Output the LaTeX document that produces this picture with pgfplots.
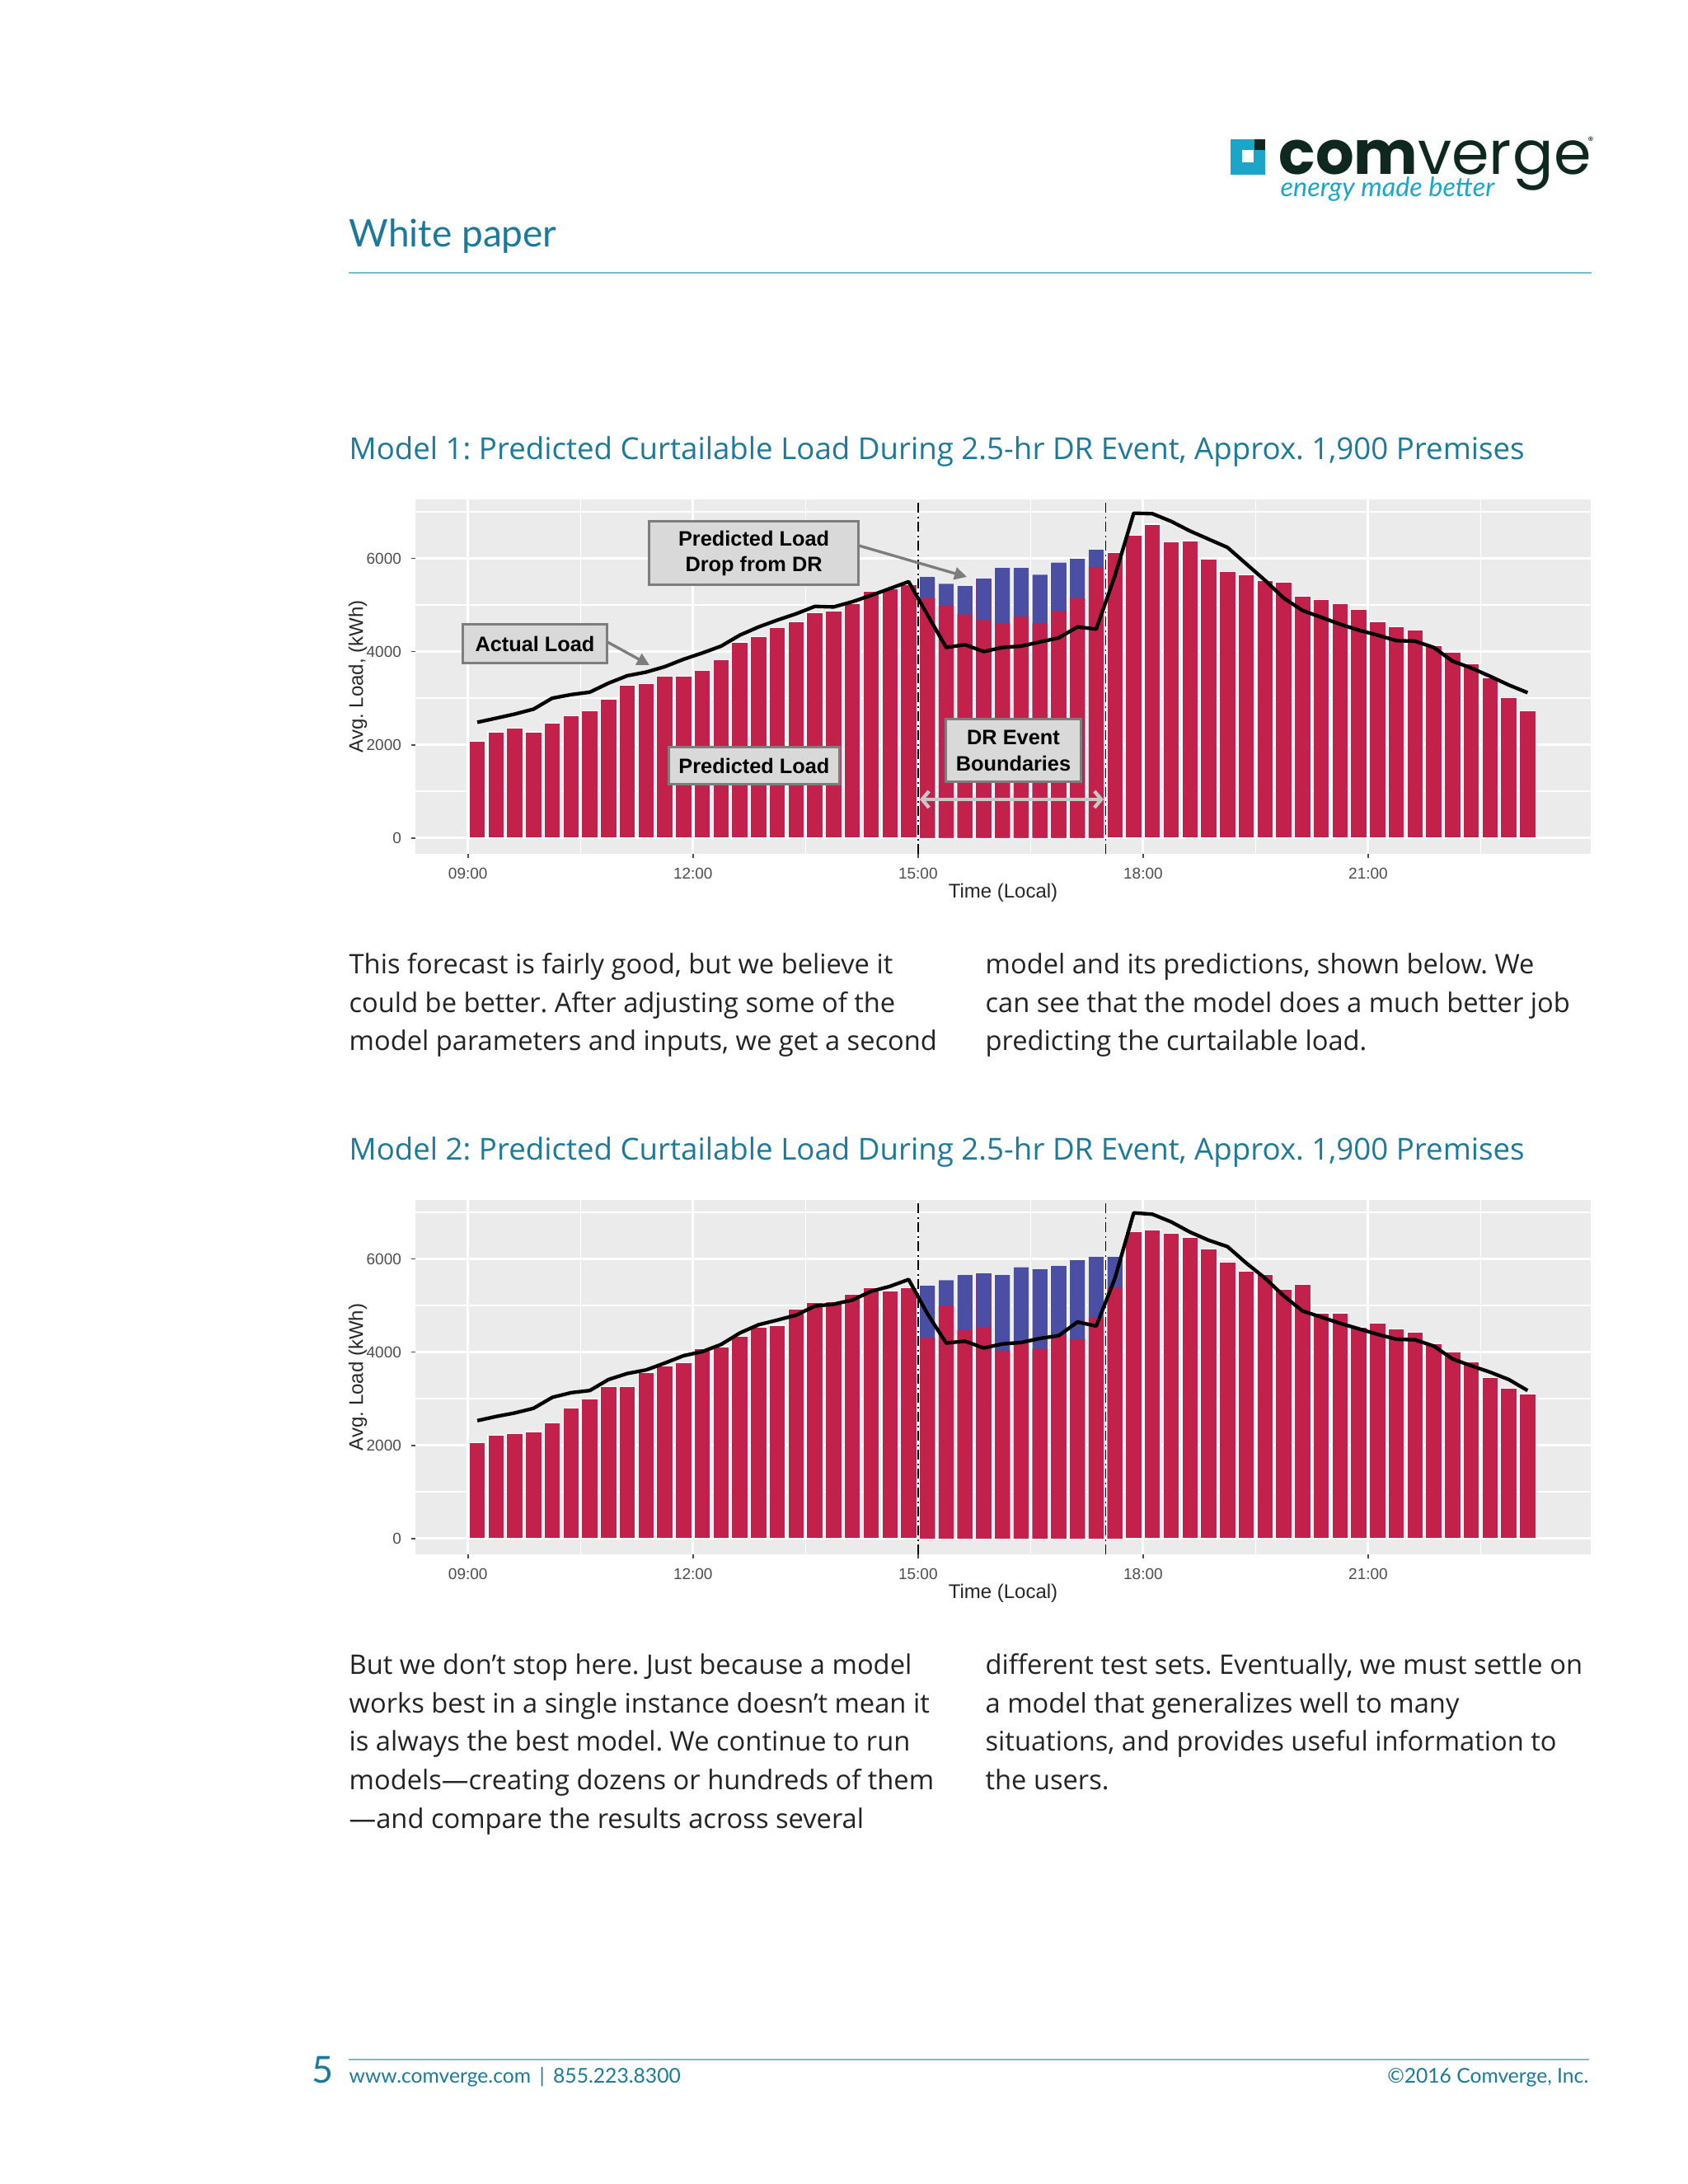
\documentclass[border=0pt]{standalone}
\usepackage{fontspec}
\setmainfont{Open Sans}
\newfontfamily\lato{Lato}
\newfontfamily\chartfont{Liberation Sans}
\newfontfamily\logofont{Poppins}
\usepackage{pgfplots}
\usepackage{pgfplotstable}
\pgfplotsset{compat=1.18}
\usetikzlibrary{arrows.meta}

\definecolor{barred}{RGB}{193,33,74}
\definecolor{barblue}{RGB}{74,79,163}
\definecolor{panel}{RGB}{235,235,235}
\definecolor{titleblue}{RGB}{27,122,155}
\definecolor{ruleblue}{RGB}{125,188,206}
\definecolor{bodytext}{RGB}{35,35,35}
\definecolor{logodark}{RGB}{14,40,32}
\definecolor{logocyan}{RGB}{27,165,201}
\definecolor{annfill}{RGB}{217,217,217}
\definecolor{annborder}{RGB}{125,125,125}
\definecolor{ticktext}{RGB}{77,77,77}

% t = bar centre (hours), red = predicted load, tot = predicted load + drop, act = actual load
\pgfplotstableread{
t      red   tot   act
9.125  2076  2076  2482
9.375  2276  2276  2570
9.625  2353  2353  2659
9.875  2276  2276  2765
10.125 2470  2470  3000
10.375 2629  2629  3076
10.625 2735  2735  3129
10.875 2970  2970  3323
11.125 3282  3282  3482
11.375 3318  3318  3559
11.625 3470  3470  3676
11.875 3470  3470  3835
12.125 3588  3588  3970
12.375 3823  3823  4117
12.625 4206  4206  4353
12.875 4323  4323  4529
13.125 4517  4517  4676
13.375 4635  4635  4811
13.625 4835  4835  4970
13.875 4870  4870  4958
14.125 5029  5029  5070
14.375 5294  5294  5206
14.625 5341  5341  5353
14.875 5441  5441  5500
15.125 5147  5606  4790
15.375 4988  5453  4088
15.625 4794  5411  4147
15.875 4676  5570  4000
16.125 4606  5794  4088
16.375 4753  5794  4117
16.625 4606  5647  4206
16.875 4870  5911  4294
17.125 5147  5988  4529
17.375 5811  6188  4482
17.625 6117  6117  5630
17.875 6500  6500  6970
18.125 6735  6735  6959
18.375 6353  6353  6794
18.625 6382  6382  6588
18.875 5988  5988  6411
19.125 5723  5723  6235
19.375 5647  5647  5882
19.625 5529  5529  5529
19.875 5488  5488  5147
20.125 5188  5188  4882
20.375 5117  5117  4735
20.625 5029  5029  4588
20.875 4911  4911  4459
21.125 4647  4647  4353
21.375 4529  4529  4235
21.625 4459  4459  4223
21.875 4135  4135  4088
22.125 3982  3982  3794
22.375 3735  3735  3647
22.625 3441  3441  3470
22.875 3012  3012  3282
23.125 2735  2735  3118
}\modelone

\pgfplotstableread{
t      red   tot   act
9.125  2059  2059  2529
9.375  2218  2218  2618
9.625  2253  2253  2694
9.875  2294  2294  2794
10.125 2488  2488  3029
10.375 2794  2794  3129
10.625 2988  2988  3176
10.875 3253  3253  3412
11.125 3253  3253  3541
11.375 3570  3570  3617
11.625 3694  3694  3765
11.875 3765  3765  3923
12.125 4070  4070  4011
12.375 4117  4117  4164
12.625 4341  4341  4411
12.875 4541  4541  4588
13.125 4576  4576  4688
13.375 4923  4923  4794
13.625 5058  5058  4988
13.875 5088  5088  5029
14.125 5235  5235  5117
14.375 5382  5382  5305
14.625 5311  5311  5411
14.875 5382  5382  5559
15.125 4306  5429  4823
15.375 5000  5541  4194
15.625 4470  5659  4235
15.875 4541  5694  4088
16.125 4029  5659  4176
16.375 4206  5823  4206
16.625 4070  5776  4294
16.875 4353  5853  4353
17.125 4276  5970  4647
17.375 4735  6041  4559
17.625 5382  6041  5588
17.875 6588  6588  6988
18.125 6629  6629  6959
18.375 6547  6547  6794
18.625 6470  6470  6576
18.875 6206  6206  6400
19.125 5929  5929  6264
19.375 5735  5735  5911
19.625 5659  5659  5588
19.875 5341  5341  5206
20.125 5459  5459  4882
20.375 4841  4841  4752
20.625 4841  4841  4618
20.875 4529  4529  4500
21.125 4618  4618  4382
21.375 4500  4500  4276
21.625 4423  4423  4264
21.875 4188  4188  4129
22.125 4000  4000  3852
22.375 3794  3794  3706
22.625 3459  3459  3570
22.875 3218  3218  3411
23.125 3106  3106  3176
}\modeltwo

\pgfplotsset{
  drchart/.style={
    scale only axis, width=427.8bp, height=129bp,
    xmin=8.3, xmax=23.967, ymin=-341, ymax=7265,
    axis background/.style={fill=panel},
    axis line style={draw=none},
    xtick={9,12,15,18,21},
    xticklabels={09:00,12:00,15:00,18:00,21:00},
    minor xtick={10.5,13.5,16.5,19.5,22.5},
    ytick={0,2000,4000,6000},
    yticklabels={0,2000,4000,6000},
    minor ytick={1000,3000,5000,7000},
    grid=both,
    major grid style={white, line width=0.9bp},
    minor grid style={white, line width=0.45bp},
    tick align=outside, xtick pos=bottom, ytick pos=left,
    major tick length=1.6bp, minor tick length=0pt,
    tick style={ticktext, line width=0.5bp},
    ticklabel style={font=\chartfont\fontsize{5.7bp}{6bp}\selectfont, text=ticktext},
    /pgf/number format/assume math mode=true,
    xlabel={Time (Local)},
    every axis x label/.style={at={(axis description cs:0.5,-0.109)}, anchor=center,
      font=\chartfont\fontsize{7.2bp}{8bp}\selectfont, text=black!85},
    every axis y label/.style={at={(axis description cs:-0.049,0.5)}, anchor=center, rotate=90,
      font=\chartfont\fontsize{7.2bp}{8bp}\selectfont, text=black!85},
  },
  % full bars with white outline, then the DR part redrawn as blue drop over red load
  drbar/.style={ybar, bar width=0.215, bar shift=0pt, draw=white, line width=0.35bp, fill=barred},
  drinner/.style={ybar, bar width=0.202, bar shift=0pt, draw=none},
  drline/.style={black, line width=1.3bp, line join=round, mark=none},
  drbound/.style={black, line width=0.4bp, dash pattern=on 3.5bp off 1.4bp on 0.6bp off 1.4bp},
}

\tikzset{ann/.style={draw=annborder, line width=0.9bp, fill=annfill, inner sep=0pt,
  font=\chartfont\bfseries\fontsize{7.6bp}{9.4bp}\selectfont, align=center}}

\begin{document}
\frenchspacing
\begin{tikzpicture}
\useasboundingbox (0,0) rectangle (614.4bp,-795bp);
\fill[white] (0,0) rectangle (614.4bp,-795bp);

% ---- chart 1
\begin{axis}[drchart, at={(151.2bp,-181.8bp)}, anchor=north west, ylabel={Avg. Load, (kWh)}]
\addplot[drbar] table[x=t, y=tot] {\modelone};
\addplot[drinner, fill=barblue, restrict x to domain=15:17.5] table[x=t, y=tot] {\modelone};
\addplot[drinner, fill=barred, restrict x to domain=15:17.5] table[x=t, y=red] {\modelone};
\addplot[drline] table[x=t, y=act] {\modelone};
\addplot[drbound] coordinates {(15,-341) (15,7265)};
\addplot[drbound] coordinates {(17.5,-341) (17.5,7265)};
\end{axis}

% ---- chart 2
\begin{axis}[drchart, at={(151.2bp,-436.8bp)}, anchor=north west, ylabel={Avg. Load (kWh)}]
\addplot[drbar] table[x=t, y=tot] {\modeltwo};
\addplot[drinner, fill=barblue, restrict x to domain=15:17.75] table[x=t, y=tot] {\modeltwo};
\addplot[drinner, fill=barred, restrict x to domain=15:17.75] table[x=t, y=red] {\modeltwo};
\addplot[drline] table[x=t, y=act] {\modeltwo};
\addplot[drbound] coordinates {(15,-341) (15,7265)};
\addplot[drbound] coordinates {(17.5,-341) (17.5,7265)};
\end{axis}

\begin{scope}[x=0.3bp, y=-0.3bp]
% annotations on chart 1
\draw[annborder, line width=1bp, -{Triangle[length=4.5bp, width=4.5bp]}] (1042,662) -- (1173,700);
\draw[annborder, line width=1bp, -{Triangle[length=4.5bp, width=4.5bp]}] (737,779) -- (788,807);
\node[ann, minimum width=76.2bp, minimum height=23.1bp] at (914.6,671.5) {Predicted Load\\Drop from DR};
\node[ann, minimum width=52.5bp, minimum height=14.1bp] at (649,781.5) {Actual Load};
\node[ann, minimum width=62.2bp, minimum height=13.7bp] at (915,929) {Predicted Load};
\node[ann, minimum width=49.1bp, minimum height=22.8bp] at (1229.5,911) {DR Event\\Boundaries};
\draw[black!22, line width=1.3bp, {Straight Barb[length=2.5bp, width=6bp]}-{Straight Barb[length=2.5bp, width=6bp]}] (1116,970) -- (1339,970);

% logo
\fill[logocyan] (1493,169) rectangle (1535,212);
\fill[logodark] (1522,169) rectangle (1535,182.5);
\fill[white] (1507,182.5) rectangle (1521.5,197.5);
\node[anchor=base west, inner sep=0, text=logodark, font=\logofont\fontsize{22bp}{24bp}\selectfont] (cv) at (1551,211.7) {\textbf{com}ver};
\node[anchor=base west, inner sep=0, text=logodark, font=\logofont\fontsize{22bp}{24bp}\selectfont] at (cv.base east) {ge};
\node[anchor=base west, inner sep=0, text=logodark, font=\logofont\fontsize{4bp}{5bp}\selectfont] at (1926,176) {®};
\node[anchor=base west, inner sep=0, text=logocyan, font=\lato\fontsize{9.7bp}{11bp}\selectfont\itshape] at (1553,238.3) {energy made better};

% header
\node[anchor=base west, inner sep=0, text=titleblue, font=\lato\fontsize{13.8bp}{16bp}\selectfont] at (423,300) {White paper};
\draw[ruleblue, line width=0.6bp] (423,331) -- (1931,331);

% titles
\node[anchor=base west, inner sep=0, text=titleblue, font=\fontsize{11bp}{13bp}\selectfont] at (423,558) {Model 1: Predicted Curtailable Load During 2.5-hr DR Event, Approx. 1,900 Premises};
\node[anchor=base west, inner sep=0, text=titleblue, font=\fontsize{11bp}{13bp}\selectfont] at (423,1408) {Model 2: Predicted Curtailable Load During 2.5-hr DR Event, Approx. 1,900 Premises};

% body text
\begin{scope}[every node/.style={anchor=base west, inner sep=0, text=bodytext, font=\fontsize{9.8bp}{12bp}\selectfont}]
\node at (423,1181.7) {This forecast is fairly good, but we believe it};
\node at (423,1228.4) {could be better. After adjusting some of the};
\node at (423,1275) {model parameters and inputs, we get a second};
\node at (1195,1181.7) {model and its predictions, shown below. We};
\node at (1195,1228.4) {can see that the model does a much better job};
\node at (1195,1275) {predicting the curtailable load.};
\node at (423,2031.7) {But we don’t stop here. Just because a model};
\node at (423,2078.3) {works best in a single instance doesn’t mean it};
\node at (423,2125) {is always the best model. We continue to run};
\node at (423,2171.7) {models—creating dozens or hundreds of them};
\node at (423,2218.3) {—and compare the results across several};
\node at (1195,2031.7) {different test sets. Eventually, we must settle on};
\node at (1195,2078.3) {a model that generalizes well to many};
\node at (1195,2125) {situations, and provides useful information to};
\node at (1195,2171.7) {the users.};
\end{scope}

% footer
\draw[ruleblue, line width=0.6bp] (423,2499) -- (1928,2499);
\node[anchor=base west, inner sep=0, text=titleblue, font=\lato\fontsize{13.5bp}{15bp}\selectfont] at (378,2528) {5};
\node[anchor=base west, inner sep=0, text=titleblue, font=\lato\fontsize{7.4bp}{9bp}\selectfont] at (423,2528) {www.comverge.com \,|\, 855.223.8300};
\node[anchor=base east, inner sep=0, text=titleblue, font=\lato\fontsize{7.4bp}{9bp}\selectfont] at (1928,2528) {©2016 Comverge, Inc.};
\end{scope}
\end{tikzpicture}
\end{document}
